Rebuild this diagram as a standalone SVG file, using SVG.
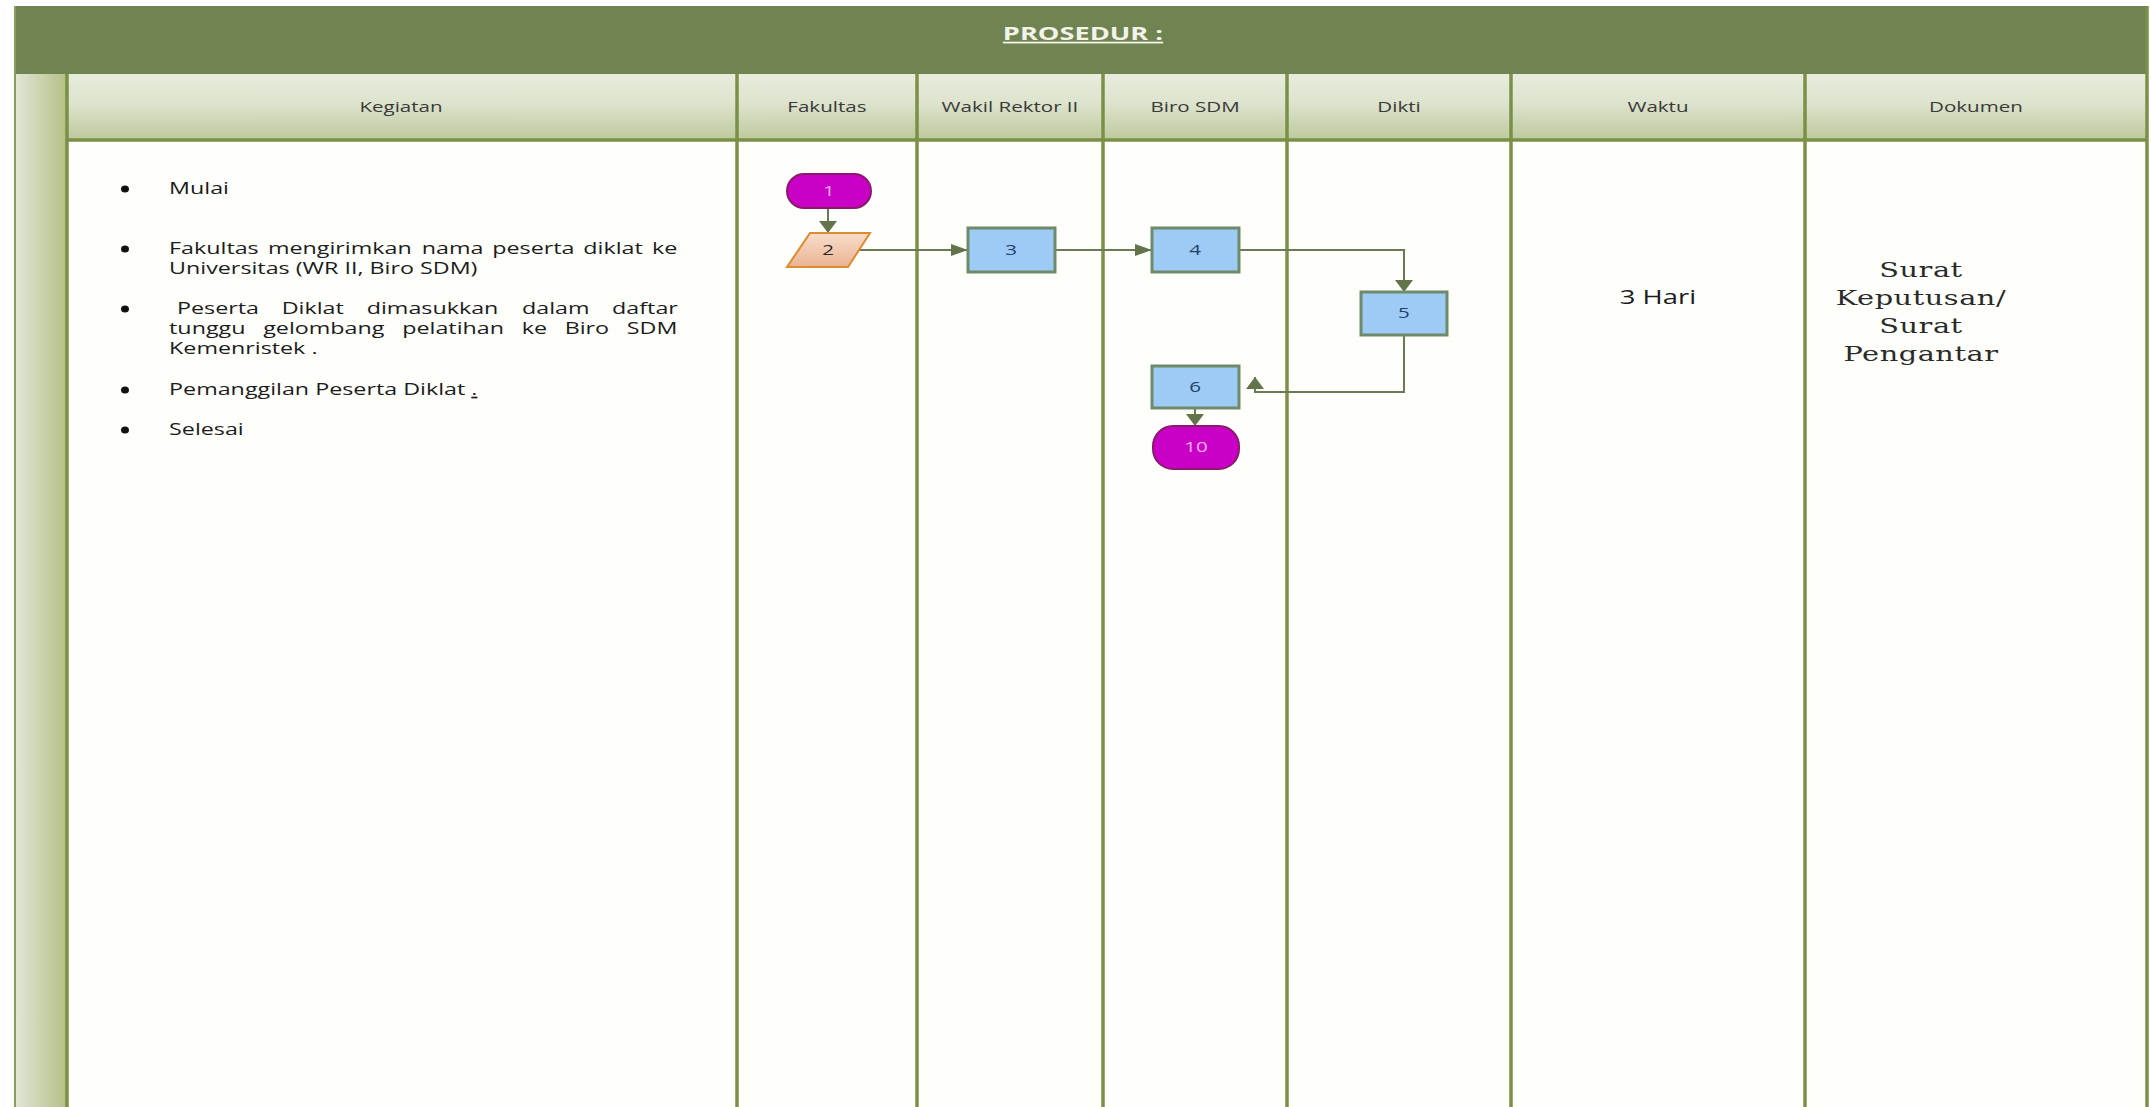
<svg xmlns="http://www.w3.org/2000/svg" width="2151" height="1107" viewBox="0 0 2151 1107">
<defs>
  <linearGradient id="hdr" x1="0" y1="0" x2="0" y2="1">
    <stop offset="0" stop-color="#e8ecdd"/>
    <stop offset="0.45" stop-color="#dde3cd"/>
    <stop offset="1" stop-color="#bdc99c"/>
  </linearGradient>
  <linearGradient id="strip" x1="0" y1="0" x2="1" y2="0">
    <stop offset="0" stop-color="#e3e7da"/>
    <stop offset="1" stop-color="#b3c187"/>
  </linearGradient>
  <linearGradient id="para" x1="0" y1="0" x2="0" y2="1">
    <stop offset="0" stop-color="#f8ddcc"/>
    <stop offset="1" stop-color="#eab391"/>
  </linearGradient>
  <marker id="ah" markerUnits="userSpaceOnUse" markerWidth="17" markerHeight="12" refX="17" refY="6" orient="auto">
    <path d="M0,0 L17,6 L0,12 Z" fill="#62744a"/>
  </marker>
  <marker id="av" markerUnits="userSpaceOnUse" markerWidth="12" markerHeight="18" refX="12" refY="9" orient="auto">
    <path d="M0,0 L12,9 L0,18 Z" fill="#62744a"/>
  </marker>
  <style>
    .lane{stroke:#7b9046;stroke-width:3.5;fill:none}
    .box{fill:#9dcbf5;stroke:#6f8a68;stroke-width:3}
    .term{fill:#c900c6;stroke:#8c1a6a;stroke-width:2}
    .conn{fill:none;stroke:#6a7a55;stroke-width:2}
    .num{font-family:"Open Sans","Noto Sans",sans-serif;font-size:15px;fill:#23406b;text-anchor:middle}
    .tnum{font-family:"Open Sans","Noto Sans",sans-serif;font-size:15px;fill:#f5b0f0;text-anchor:middle}
    .hd{font-family:"Open Sans","Noto Sans",sans-serif;font-size:15px;fill:#3a3a3a;text-anchor:middle}
    .li{font-family:"Open Sans","Noto Sans",sans-serif;font-size:17px;fill:#1c1c1c}
    .ser{font-family:"DejaVu Serif","Liberation Serif",serif;font-size:21px;letter-spacing:0.4px;fill:#2a2a2a;text-anchor:middle}
    .ttl{font-family:"Open Sans","Noto Sans",sans-serif;font-size:18px;font-weight:bold;fill:#f3f3ea;text-anchor:middle;text-decoration:underline}
  </style>
</defs>

<g id="table">
  <rect x="0" y="0" width="2151" height="1107" fill="#ffffff"/>
  <rect x="68" y="140" width="2079" height="967" fill="#fefefb"/>
  <rect x="14" y="6" width="2134" height="68" fill="#6f8450"/>
  <rect x="68" y="74" width="2079" height="66" fill="url(#hdr)"/>
  <rect x="14" y="74" width="52" height="1033" fill="url(#strip)"/>
  <line x1="15" y1="6" x2="15" y2="1107" stroke="#8a9b5e" stroke-width="2"/>
  <line class="lane" x1="66" y1="140" x2="2148" y2="140" stroke-width="3"/>
  <line class="lane" x1="67" y1="74" x2="67" y2="1107"/>
  <line class="lane" x1="737" y1="74" x2="737" y2="1107"/>
  <line class="lane" x1="917" y1="74" x2="917" y2="1107"/>
  <line class="lane" x1="1103" y1="74" x2="1103" y2="1107"/>
  <line class="lane" x1="1287" y1="74" x2="1287" y2="1107"/>
  <line class="lane" x1="1511" y1="74" x2="1511" y2="1107"/>
  <line class="lane" x1="1805" y1="74" x2="1805" y2="1107"/>
  <line class="lane" x1="2147" y1="6" x2="2147" y2="1107"/>
  <g transform="scale(1.37 1)">
    <text class="ttl" x="790.5" y="40" textLength="117" lengthAdjust="spacingAndGlyphs">PROSEDUR :</text>
    <text class="hd" x="292.7" y="112">Kegiatan</text>
    <text class="hd" x="603.6" y="112">Fakultas</text>
    <text class="hd" x="737.2" y="112">Wakil Rektor II</text>
    <text class="hd" x="872.3" y="112">Biro SDM</text>
    <text class="hd" x="1021.2" y="112">Dikti</text>
    <text class="hd" x="1210.2" y="112">Waktu</text>
    <text class="hd" x="1442.3" y="112">Dokumen</text>
  </g>
</g>

<g id="kegiatan">
  <g fill="#111111">
    <ellipse cx="125" cy="189" rx="4" ry="3.5"/>
    <ellipse cx="125" cy="249" rx="4" ry="3.5"/>
    <ellipse cx="125" cy="309" rx="4" ry="3.5"/>
    <ellipse cx="125" cy="390" rx="4" ry="3.5"/>
    <ellipse cx="125" cy="430" rx="4" ry="3.5"/>
  </g>
  <g transform="scale(1.37 1)">
    <text class="li" x="123.4" y="194">Mulai</text>
    <text class="li" y="254"><tspan x="123.4">Fakultas</tspan><tspan x="195.6">mengirimkan</tspan><tspan x="307.8">nama</tspan><tspan x="359.3">peserta</tspan><tspan x="425.8">diklat</tspan><tspan x="476.0">ke</tspan></text>
    <text class="li" x="123.4" y="274">Universitas (WR II, Biro SDM)</text>
    <text class="li" y="314"><tspan x="129.2">Peserta</tspan><tspan x="205.6">Diklat</tspan><tspan x="267.7">dimasukkan</tspan><tspan x="381.0">dalam</tspan><tspan x="446.8">daftar</tspan></text>
    <text class="li" y="334"><tspan x="123.4">tunggu</tspan><tspan x="192.1">gelombang</tspan><tspan x="293.6">pelatihan</tspan><tspan x="380.9">ke</tspan><tspan x="412.2">Biro</tspan><tspan x="457.5">SDM</tspan></text>
    <text class="li" x="123.4" y="354">Kemenristek .</text>
    <text class="li" x="123.4" y="395">Pemanggilan Peserta Diklat <tspan text-decoration="underline">.</tspan></text>
    <text class="li" x="123.4" y="435">Selesai</text>
  </g>
</g>

<g id="connectors">
  <path class="conn" d="M828,208 L828,233" marker-end="url(#av)"/>
  <path class="conn" d="M859,250 L968,250" marker-end="url(#ah)"/>
  <path class="conn" d="M1055,250 L1152,250" marker-end="url(#ah)"/>
  <path class="conn" d="M1239,250 L1404,250 L1404,292" marker-end="url(#av)"/>
  <path class="conn" d="M1404,335 L1404,392 L1255,392 L1255,377" marker-end="url(#av)"/>
  <path class="conn" d="M1195,408 L1195,426" marker-end="url(#av)"/>
</g>

<g id="node1">
  <rect class="term" x="787" y="174" width="84" height="34" rx="17"/>
  <text class="tnum" transform="scale(1.37 1)" x="605.1" y="196">1</text>
</g>
<g id="node2">
  <polygon points="810,233 870,233 848,267 787,267" fill="url(#para)" stroke="#e08a30" stroke-width="2"/>
  <text class="num" transform="scale(1.37 1)" x="604.4" y="255" style="fill:#2a2a2a">2</text>
</g>
<g id="node3">
  <rect class="box" x="968" y="228" width="87" height="44"/>
  <text class="num" transform="scale(1.37 1)" x="738.0" y="255">3</text>
</g>
<g id="node4">
  <rect class="box" x="1152" y="228" width="87" height="44"/>
  <text class="num" transform="scale(1.37 1)" x="872.3" y="255">4</text>
</g>
<g id="node5">
  <rect class="box" x="1361" y="292" width="86" height="43"/>
  <text class="num" transform="scale(1.37 1)" x="1024.8" y="318">5</text>
</g>
<g id="node6">
  <rect class="box" x="1152" y="366" width="87" height="42"/>
  <text class="num" transform="scale(1.37 1)" x="872.3" y="392">6</text>
</g>
<g id="node10">
  <rect class="term" x="1153" y="426" width="86" height="43" rx="20"/>
  <text class="tnum" transform="scale(1.37 1)" x="873.0" y="452">10</text>
</g>

<g id="waktu">
  <text class="li" transform="scale(1.37 1)" x="1210.2" y="304" text-anchor="middle" style="font-size:20px">3 Hari</text>
</g>
<g id="dokumen" transform="scale(1.37 1)">
  <text class="ser" x="1402.2" y="277">Surat</text>
  <text class="ser" x="1402.2" y="305">Keputusan/</text>
  <text class="ser" x="1402.2" y="333">Surat</text>
  <text class="ser" x="1402.2" y="361">Pengantar</text>
</g>
</svg>
